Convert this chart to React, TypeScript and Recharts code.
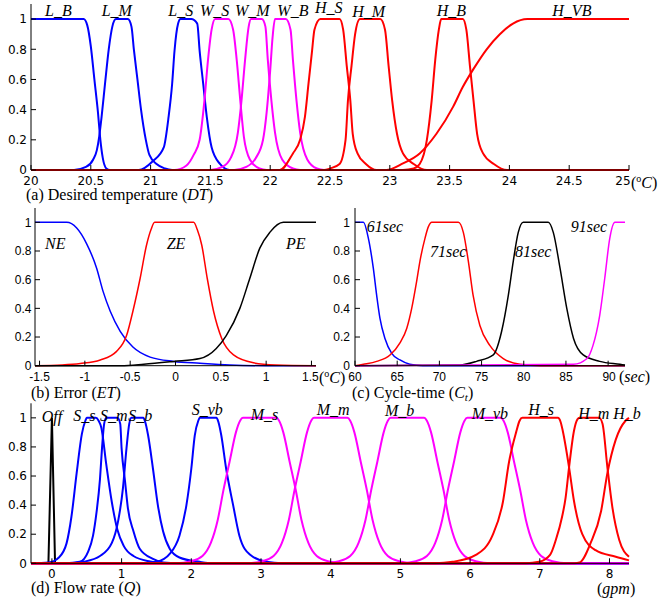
import React from 'react';
import { LineChart, Line, XAxis, YAxis } from 'recharts';

type P = [number, number];

// ---------- tick labels ----------
const Y_TICKS = [0, 0.2, 0.4, 0.6, 0.8, 1];
const DT_TICKS = [20, 20.5, 21, 21.5, 22, 22.5, 23, 23.5, 24, 24.5, 25];
const ET_TICKS = [-1.5, -1, -0.5, 0, 0.5, 1, 1.5];
const CT_TICKS = [60, 65, 70, 75, 80, 85, 90];
const Q_TICKS = [0, 1, 2, 3, 4, 5, 6, 7, 8];

// ---------- (a) Desired temperature ----------
const DT_LB: P[] = [[20,1],[20.44,1],[20.47,0.96],[20.5,0.82],[20.53,0.6],[20.56,0.38],[20.58,0.2],[20.6,0.08],[20.63,0.01],[20.66,0],[25,0]];
const DT_LM: P[] = [[20,0],[20.36,0],[20.46,0.02],[20.52,0.07],[20.55,0.13],[20.57,0.22],[20.59,0.35],[20.62,0.58],[20.65,0.8],[20.68,0.95],[20.71,1],[20.81,1],[20.84,0.95],[20.86,0.8],[20.89,0.6],[20.92,0.4],[20.96,0.2],[20.99,0.1],[21.05,0.04],[21.12,0.01],[21.18,0],[25,0]];
const DT_LS: P[] = [[20,0],[20.9,0],[21.02,0.06],[21.11,0.15],[21.15,0.35],[21.18,0.57],[21.2,0.79],[21.23,0.97],[21.25,1],[21.34,1],[21.39,0.97],[21.41,0.79],[21.44,0.57],[21.47,0.35],[21.51,0.15],[21.58,0.04],[21.66,0],[25,0]];
const DT_WS: P[] = [[20,0],[21.2,0],[21.3,0.03],[21.36,0.1],[21.41,0.2],[21.45,0.46],[21.48,0.73],[21.51,0.93],[21.54,1],[21.65,1],[21.69,0.93],[21.72,0.73],[21.75,0.46],[21.78,0.22],[21.83,0.07],[21.91,0.01],[21.97,0],[25,0]];
const DT_WM: P[] = [[20,0],[21.5,0],[21.6,0.02],[21.67,0.08],[21.73,0.25],[21.76,0.46],[21.79,0.73],[21.82,0.95],[21.84,1],[21.93,1],[21.96,0.95],[21.98,0.73],[22.01,0.46],[22.04,0.25],[22.1,0.07],[22.19,0.01],[22.25,0],[25,0]];
const DT_WB: P[] = [[20,0],[21.7,0],[21.8,0.02],[21.88,0.08],[21.94,0.2],[21.97,0.38],[22.0,0.66],[22.02,0.88],[22.04,1],[22.13,1],[22.17,0.93],[22.19,0.73],[22.22,0.46],[22.25,0.25],[22.31,0.07],[22.39,0.01],[22.45,0],[25,0]];
const DT_HS: P[] = [[20,0],[22.08,0],[22.19,0.11],[22.25,0.2],[22.29,0.35],[22.32,0.57],[22.35,0.79],[22.37,0.93],[22.42,1],[22.58,1],[22.61,0.93],[22.64,0.69],[22.67,0.46],[22.69,0.24],[22.73,0.11],[22.8,0.04],[22.89,0],[25,0]];
const DT_HM: P[] = [[20,0],[22.45,0],[22.5,0.01],[22.58,0.04],[22.63,0.2],[22.65,0.46],[22.68,0.69],[22.71,0.9],[22.75,1],[22.92,1],[22.96,0.93],[22.99,0.69],[23.02,0.46],[23.06,0.24],[23.11,0.11],[23.2,0.04],[23.31,0],[25,0]];
const DT_HB: P[] = [[20,0],[23.11,0],[23.2,0.01],[23.25,0.04],[23.31,0.2],[23.35,0.46],[23.38,0.73],[23.41,0.93],[23.43,1],[23.61,1],[23.64,0.93],[23.67,0.69],[23.7,0.46],[23.73,0.24],[23.78,0.11],[23.87,0.04],[23.98,0],[25,0]];
const DT_HVB: P[] = [[20,0],[22.97,0],[23.11,0.044],[23.25,0.11],[23.39,0.24],[23.53,0.42],[23.61,0.55],[23.7,0.67],[23.81,0.8],[23.92,0.9],[24.03,0.97],[24.15,1],[25,1]];

// ---------- (b) Error ----------
const ET_NE: P[] = [[-1.55,1],[-1.2,1],[-1.09,0.96],[-0.98,0.85],[-0.87,0.68],[-0.8,0.52],[-0.72,0.38],[-0.61,0.24],[-0.47,0.13],[-0.28,0.06],[-0.02,0.03],[0.27,0.017],[0.6,0.005],[1.0,0],[1.55,0]];
const ET_ZE: P[] = [[-1.55,0],[-1.25,0.005],[-1.05,0.015],[-0.83,0.04],[-0.65,0.1],[-0.54,0.21],[-0.47,0.38],[-0.39,0.61],[-0.32,0.84],[-0.27,0.95],[-0.23,1],[0.2,1],[0.24,0.95],[0.29,0.84],[0.35,0.61],[0.42,0.38],[0.51,0.19],[0.64,0.075],[0.86,0.02],[1.1,0.005],[1.55,0]];
const ET_PE: P[] = [[-1.55,0],[-0.6,0],[-0.35,0.01],[-0.02,0.03],[0.27,0.05],[0.45,0.12],[0.56,0.21],[0.71,0.4],[0.82,0.61],[0.93,0.82],[1.04,0.93],[1.19,1],[1.55,1]];

// ---------- (c) Cycle-time ----------
const CT_61: P[] = [[60,1],[61.0,1],[61.58,0.89],[62.17,0.68],[62.57,0.49],[62.96,0.33],[63.55,0.19],[64.35,0.086],[65.33,0.04],[66.5,0.01],[68,0],[92,0]];
const CT_71: P[] = [[60,0],[61,0.01],[62.57,0.03],[64.15,0.075],[65.33,0.16],[66.13,0.26],[66.72,0.4],[67.31,0.59],[67.7,0.73],[68.3,0.89],[68.7,0.97],[69.1,1],[72.25,1],[72.84,0.93],[73.43,0.73],[74.0,0.49],[74.8,0.28],[76.0,0.14],[77.57,0.05],[79.55,0.01],[82,0],[92,0]];
const CT_81: P[] = [[60,0],[72.4,0.005],[74.4,0.03],[76.39,0.075],[77.38,0.24],[78.17,0.49],[78.76,0.73],[79.35,0.93],[79.94,1],[82.9,1],[83.5,0.93],[84.3,0.68],[85.1,0.4],[85.9,0.19],[87.05,0.075],[89.0,0.03],[91.4,0.01],[92,0.005]];
const CT_91: P[] = [[60,0],[85.9,0.01],[87.5,0.05],[88.2,0.14],[89.0,0.35],[89.6,0.61],[90.2,0.89],[90.8,1],[92,1]];

// ---------- (d) Flow rate ----------
const Q_OFF: P[] = [[-0.3,0],[-0.05,0],[0,1],[0.045,0],[8.28,0]];
const Q_SS: P[] = [[-0.3,0],[-0.05,0.005],[0.1,0.04],[0.21,0.137],[0.28,0.32],[0.355,0.62],[0.43,0.89],[0.48,0.98],[0.5,1],[0.63,1],[0.67,0.98],[0.71,0.93],[0.78,0.68],[0.86,0.42],[0.94,0.23],[1.03,0.12],[1.17,0.05],[1.41,0.012],[1.6,0],[8.28,0]];
const Q_SM: P[] = [[-0.3,0],[0.2,0],[0.4,0.01],[0.52,0.08],[0.59,0.19],[0.64,0.35],[0.69,0.58],[0.72,0.8],[0.75,0.96],[0.78,1],[0.94,1],[0.98,0.96],[1.0,0.79],[1.05,0.56],[1.09,0.38],[1.17,0.22],[1.26,0.1],[1.45,0.03],[1.6,0.005],[1.8,0],[8.28,0]];
const Q_SB: P[] = [[-0.3,0],[0.3,0],[0.45,0.01],[0.69,0.05],[0.86,0.14],[0.95,0.29],[1.02,0.52],[1.07,0.79],[1.11,0.96],[1.14,1],[1.31,1],[1.34,0.97],[1.38,0.88],[1.45,0.65],[1.52,0.4],[1.595,0.22],[1.69,0.1],[1.83,0.04],[2.12,0.01],[2.3,0],[8.28,0]];
const Q_SVB: P[] = [[-0.3,0],[1.3,0],[1.5,0.01],[1.7,0.07],[1.83,0.19],[1.93,0.4],[2.0,0.65],[2.05,0.88],[2.1,0.98],[2.12,1],[2.36,1],[2.39,0.97],[2.43,0.88],[2.5,0.65],[2.6,0.4],[2.69,0.19],[2.84,0.06],[3.08,0.01],[3.3,0],[8.28,0]];
const Q_MS: P[] = [[-0.3,0],[1.78,0],[2.0,0.015],[2.16,0.05],[2.28,0.14],[2.38,0.3],[2.46,0.5],[2.55,0.7],[2.64,0.9],[2.7,0.98],[2.74,1],[3.22,1],[3.26,0.98],[3.32,0.9],[3.41,0.7],[3.5,0.5],[3.58,0.3],[3.68,0.14],[3.8,0.05],[3.96,0.015],[4.18,0],[8.28,0]];
const Q_MM: P[] = [[-0.3,0],[2.8,0],[3.02,0.015],[3.18,0.05],[3.3,0.14],[3.4,0.3],[3.48,0.5],[3.57,0.7],[3.66,0.9],[3.72,0.98],[3.76,1],[4.24,1],[4.28,0.98],[4.34,0.9],[4.43,0.7],[4.52,0.5],[4.6,0.3],[4.7,0.14],[4.82,0.05],[4.98,0.015],[5.2,0],[8.28,0]];
const Q_MB: P[] = [[-0.3,0],[3.9,0],[4.12,0.015],[4.28,0.05],[4.4,0.14],[4.5,0.3],[4.58,0.5],[4.67,0.7],[4.76,0.9],[4.82,0.98],[4.86,1],[5.34,1],[5.38,0.98],[5.44,0.9],[5.53,0.7],[5.62,0.5],[5.7,0.3],[5.8,0.14],[5.92,0.05],[6.08,0.015],[6.3,0],[8.28,0]];
const Q_MVB: P[] = [[-0.3,0],[5.0,0],[5.22,0.015],[5.38,0.05],[5.5,0.14],[5.6,0.3],[5.68,0.5],[5.77,0.7],[5.86,0.9],[5.92,0.98],[5.96,1],[6.44,1],[6.48,0.98],[6.54,0.9],[6.63,0.7],[6.72,0.5],[6.8,0.3],[6.9,0.14],[7.02,0.05],[7.18,0.015],[7.4,0],[8.28,0]];
const Q_HS: P[] = [[-0.3,0],[5.5,0],[5.75,0.01],[6.09,0.06],[6.32,0.19],[6.47,0.42],[6.56,0.7],[6.66,0.9],[6.71,0.98],[6.75,1],[7.26,1],[7.3,0.97],[7.33,0.91],[7.42,0.66],[7.49,0.43],[7.61,0.2],[7.8,0.09],[8.09,0.045],[8.28,0.02]];
const Q_HM: P[] = [[-0.3,0],[6.8,0],[6.99,0.01],[7.15,0.06],[7.23,0.16],[7.32,0.32],[7.37,0.45],[7.42,0.66],[7.49,0.91],[7.54,0.99],[7.57,1],[7.85,1],[7.9,0.96],[7.97,0.66],[8.04,0.39],[8.14,0.16],[8.28,0.045]];
const Q_HB: P[] = [[-0.3,0],[7.5,0],[7.57,0.005],[7.73,0.14],[7.88,0.36],[7.97,0.62],[8.09,0.85],[8.23,0.98],[8.28,1]];

// ---------- curve labels ----------
const DT_NAMES = ['L_B', 'L_M', 'L_S', 'W_S', 'W_M', 'W_B', 'H_S', 'H_M', 'H_B', 'H_VB'];
const ET_NAMES = ['NE', 'ZE', 'PE'];
const CT_NAMES = ['61sec', '71sec', '81sec', '91sec'];
const Q_NAMES = ['Off', 'S_s', 'S_m', 'S_b', 'S_vb', 'M_s', 'M_m', 'M_b', 'M_vb', 'H_s', 'H_m', 'H_b'];

const BLUE = '#0000ff';
const MAG = '#ff00ff';
const RED = '#ff0000';
const BLK = '#000000';

const SERIF = "'Liberation Serif', 'Times New Roman', serif";

interface Series { data: P[]; color: string; linear?: boolean }

const toPts = (a: P[]) => a.map(([x, y]) => ({ x, y }));

interface PanelProps {
  left: number; top: number; width: number; height: number;
  mTop: number; mRight: number; yWidth: number; xHeight: number;
  xDomain: [number, number]; xTicks: number[]; series: Series[];
  sw: number; font: string; fs: number; xTM: number; yTM: number; lastDx?: number;
}

function Panel(p: PanelProps) {
  const tickStyle = { fill: '#000', fontSize: p.fs, fontFamily: p.font };
  const ax = { stroke: '#000', strokeWidth: 1 };
  const last = p.xTicks[p.xTicks.length - 1];
  const xTick = (props: any) => {
    const { x, y, payload } = props;
    const dx = payload.value === last ? (p.lastDx || 0) : 0;
    return (
      <text x={x + dx} y={y} dy={p.fs * 0.71} textAnchor="middle" fill="#000" fontSize={p.fs}
        style={{ fontFamily: p.font }}>{String(payload.value)}</text>
    );
  };
  return (
    <div style={{ position: 'absolute', left: p.left, top: p.top }}>
      <LineChart width={p.width} height={p.height} margin={{ top: p.mTop, right: p.mRight, bottom: 0, left: 0 }}>
        <XAxis xAxisId="b" type="number" dataKey="x" domain={p.xDomain} ticks={p.xTicks} interval={0}
          height={p.xHeight} tickSize={-5} tickMargin={p.xTM} axisLine={ax} tickLine={ax} tick={xTick} />
        <XAxis xAxisId="t" orientation="top" type="number" dataKey="x" domain={p.xDomain} ticks={p.xTicks} interval={0}
          height={0} tickSize={-5} axisLine={ax} tickLine={ax} tickFormatter={() => ''} />
        <YAxis yAxisId="l" type="number" domain={[0, 1.1]} ticks={Y_TICKS} interval={0}
          width={p.yWidth} tickSize={-5} tickMargin={p.yTM} axisLine={ax} tickLine={ax} tick={tickStyle} />
        <YAxis yAxisId="r" orientation="right" type="number" domain={[0, 1.1]} ticks={Y_TICKS} interval={0}
          width={0} tickSize={-5} axisLine={ax} tickLine={ax} tickFormatter={() => ''} />
        {p.series.map((s, i) => (
          <Line key={i} xAxisId="b" yAxisId="l" data={toPts(s.data)} dataKey="y"
            type={s.linear ? 'linear' : 'monotone'} stroke={s.color} strokeWidth={p.sw}
            dot={false} activeDot={false} isAnimationActive={false} />
        ))}
      </LineChart>
    </div>
  );
}

const IT = { fontStyle: 'italic' as const };

export default function App() {
  const dtSeries: Series[] = [
    { data: DT_LB, color: BLUE }, { data: DT_LM, color: BLUE }, { data: DT_LS, color: BLUE },
    { data: DT_WS, color: MAG }, { data: DT_WM, color: MAG }, { data: DT_WB, color: MAG },
    { data: DT_HS, color: RED }, { data: DT_HM, color: RED }, { data: DT_HB, color: RED }, { data: DT_HVB, color: RED },
  ];
  const etSeries: Series[] = [{ data: ET_NE, color: BLUE }, { data: ET_ZE, color: RED }, { data: ET_PE, color: BLK }];
  const ctSeries: Series[] = [
    { data: CT_61, color: BLUE }, { data: CT_71, color: RED }, { data: CT_81, color: BLK }, { data: CT_91, color: MAG },
  ];
  const qSeries: Series[] = [
    { data: Q_OFF, color: BLK, linear: true },
    { data: Q_SS, color: BLUE }, { data: Q_SM, color: BLUE }, { data: Q_SB, color: BLUE }, { data: Q_SVB, color: BLUE },
    { data: Q_MS, color: MAG }, { data: Q_MM, color: MAG }, { data: Q_MB, color: MAG }, { data: Q_MVB, color: MAG },
    { data: Q_HS, color: RED }, { data: Q_HM, color: RED }, { data: Q_HB, color: RED },
  ];

  const dtPos: [number, number][] = [[45, 16], [101.7, 16], [168.3, 16], [200, 16], [235, 16], [277.3, 16], [315, 13], [352.3, 16.5], [436.7, 16], [552.3, 16]];
  const etPos: [number, number][] = [[45, 249], [166.7, 249], [286, 249]];
  const ctPos: [number, number][] = [[366.7, 231.5], [430, 257], [515, 257], [570.7, 231.5]];
  const qPos: [number, number][] = [[41.7, 421.5], [73.3, 421], [100, 421], [128.3, 421], [191.7, 414.5], [250.7, 420], [316.7, 415], [385, 416], [471.7, 419], [528.3, 415], [578.3, 419], [613.3, 419]];

  const serifStyle = { fontFamily: SERIF };

  const curveLabel = (names: string[], pos: [number, number][]) =>
    names.map((n, i) => (
      <text key={n} x={pos[i][0]} y={pos[i][1]} fontSize={16} fontStyle="italic" fill="#000" style={serifStyle}>{n}</text>
    ));

  return (
    <div style={{ position: 'absolute', left: 0, top: 0, width: 666, height: 601, background: '#fff', overflow: 'hidden' }}>
      <Panel left={0} top={0} width={666} height={200} mTop={4} mRight={37} yWidth={31} xHeight={30}
        xDomain={[20, 25]} xTicks={DT_TICKS} series={dtSeries} sw={2} font="'DejaVu Sans', sans-serif" fs={12} xTM={11} yTM={9} lastDx={-6} />
      <Panel left={0} top={200} width={330} height={190} mTop={8} mRight={14} yWidth={35} xHeight={24.3}
        xDomain={[-1.55, 1.55]} xTicks={ET_TICKS} series={etSeries} sw={1.5} font="'Liberation Sans', Arial, sans-serif" fs={12} xTM={12} yTM={8.5} lastDx={-1} />
      <Panel left={330} top={200} width={336} height={190} mTop={8} mRight={41} yWidth={25} xHeight={24.3}
        xDomain={[60, 92]} xTicks={CT_TICKS} series={ctSeries} sw={1.5} font="'Liberation Sans', Arial, sans-serif" fs={12} xTM={12} yTM={10} lastDx={1} />
      <Panel left={0} top={395} width={666} height={206} mTop={8.3} mRight={37} yWidth={31} xHeight={37.7}
        xDomain={[-0.3, 8.28]} xTicks={Q_TICKS} series={qSeries} sw={2} font="'DejaVu Sans', sans-serif" fs={12} xTM={11} yTM={9} />

      <svg width={666} height={601} style={{ position: 'absolute', left: 0, top: 0, pointerEvents: 'none' }}>
        {curveLabel(DT_NAMES, dtPos)}
        {curveLabel(ET_NAMES, etPos)}
        {curveLabel(CT_NAMES, ctPos)}
        {curveLabel(Q_NAMES, qPos)}

        <g fontSize={16} fill="#000" style={serifStyle}>
          <text x={26} y={200}>(a) Desired temperature (<tspan {...IT}>DT</tspan>)</text>
          <text x={31} y={398}>(b) Error (<tspan {...IT}>ET</tspan>)</text>
          <text x={352} y={398}>(c) Cycle-time (<tspan {...IT}>C</tspan><tspan {...IT} fontSize={11} dy={3}>t</tspan><tspan dy={-3}>)</tspan></text>
          <text x={31} y={593}>(d) Flow rate (<tspan {...IT}>Q</tspan>)</text>
          <text x={597} y={594}>(<tspan {...IT}>gpm</tspan>)</text>
          <text x={631} y={188}>(<tspan fontSize={10} dy={-6}>o</tspan><tspan {...IT} dy={6}>C</tspan>)</text>
          <text x={319} y={383}>(<tspan fontSize={10} dy={-6}>o</tspan><tspan {...IT} dy={6}>C</tspan>)</text>
          <text x={619} y={382}>(<tspan {...IT}>sec</tspan>)</text>
        </g>
      </svg>
    </div>
  );
}
